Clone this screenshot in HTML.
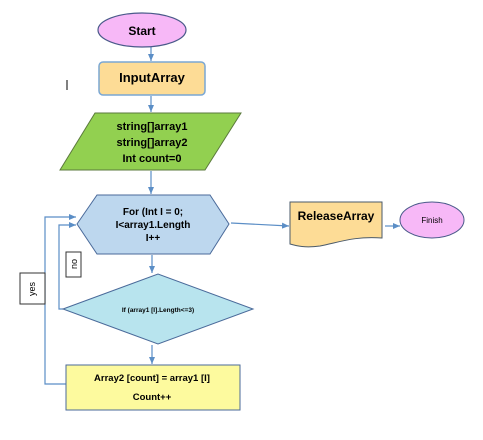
<!DOCTYPE html>
<html><head><style>body{margin:0;background:#fff}svg{display:block}text{font-family:"Liberation Sans",sans-serif;font-weight:bold}</style></head>
<body>
<svg width="483" height="440" viewBox="0 0 483 440" xmlns="http://www.w3.org/2000/svg">
<defs><marker id="a" markerWidth="8" markerHeight="8" refX="7" refY="4" orient="auto" markerUnits="userSpaceOnUse"><path d="M0,1 L7,4 L0,7z" fill="#5b8ec6"/></marker></defs>
<g stroke="#5b8ec6" stroke-width="1.2" fill="none">
<line x1="151" y1="47" x2="151" y2="61" marker-end="url(#a)"/>
<line x1="151" y1="96" x2="151" y2="112" marker-end="url(#a)"/>
<line x1="151" y1="171" x2="151" y2="194" marker-end="url(#a)"/>
<line x1="152" y1="255" x2="152" y2="273" marker-end="url(#a)"/>
<line x1="152" y1="345" x2="152" y2="364" marker-end="url(#a)"/>
<polyline points="66,384 45,384 45,217 76,217" marker-end="url(#a)"/>
<polyline points="63,309 59,309 59,225 76,225" marker-end="url(#a)"/>
<line x1="231" y1="223" x2="289" y2="226" marker-end="url(#a)"/>
<line x1="385" y1="226" x2="400" y2="226" marker-end="url(#a)"/>
</g>
<ellipse cx="142" cy="30" rx="44" ry="17" fill="#f7b8f7" stroke="#4a5a8a" stroke-width="1.2"/>
<text x="142" y="35" font-size="12" text-anchor="middle">Start</text>
<rect x="99" y="62" width="106" height="33" rx="4" fill="#fddc96" stroke="#7aa7d4" stroke-width="1.5"/>
<text x="152" y="82" font-size="13" text-anchor="middle">InputArray</text>
<polygon points="95,113 241,113 205,170 60,170" fill="#92d050" stroke="#5b7a3c" stroke-width="1"/>
<text font-size="11" text-anchor="middle"><tspan x="152" y="130">string[]array1</tspan><tspan x="152" y="146">string[]array2</tspan><tspan x="152" y="162">Int count=0</tspan></text>
<polygon points="77,224 97,195 210,195 229,224 210,254 97,254" fill="#bdd7ee" stroke="#4a6a9a" stroke-width="1"/>
<text font-size="10" text-anchor="middle"><tspan x="153" y="215">For (Int I = 0;</tspan><tspan x="153" y="228">I&lt;array1.Length</tspan><tspan x="153" y="241">I++</tspan></text>
<polygon points="63,309 158,274 253,309 158,344" fill="#b8e4ee" stroke="#4a6a9a" stroke-width="1"/>
<text x="158" y="312" font-size="6.5" text-anchor="middle">If (array1 [I].Length&lt;=3)</text>
<rect x="66" y="365" width="174" height="45" fill="#fdfa9e" stroke="#4a6a9a" stroke-width="1"/>
<text x="152" y="381" font-size="9.5" text-anchor="middle">Array2 [count] = array1 [I]</text>
<text x="152" y="400" font-size="9.5" text-anchor="middle">Count++</text>
<rect x="20" y="273" width="25" height="31" fill="#fff" stroke="#333" stroke-width="1"/>
<text transform="translate(35,289) rotate(-90)" font-size="9" style="font-weight:normal" text-anchor="middle">yes</text>
<rect x="66" y="252" width="15" height="25" fill="#fff" stroke="#333" stroke-width="1"/>
<text transform="translate(77,264) rotate(-90)" font-size="9" style="font-weight:normal" text-anchor="middle">no</text>
<path d="M290,202 L382,202 L382,238 C355,236 340,242 320,246 C305,248 297,246 290,244 Z" fill="#fddc96" stroke="#4a5a6a" stroke-width="1"/>
<text x="336" y="220" font-size="12" text-anchor="middle">ReleaseArray</text>
<ellipse cx="432" cy="220" rx="32" ry="18" fill="#f7b8f7" stroke="#4a5a8a" stroke-width="1"/>
<text x="432" y="223" font-size="8" style="font-weight:normal" text-anchor="middle">Finish</text>
<line x1="67" y1="80" x2="67" y2="90" stroke="#000" stroke-width="1"/>
</svg>
</body></html>
